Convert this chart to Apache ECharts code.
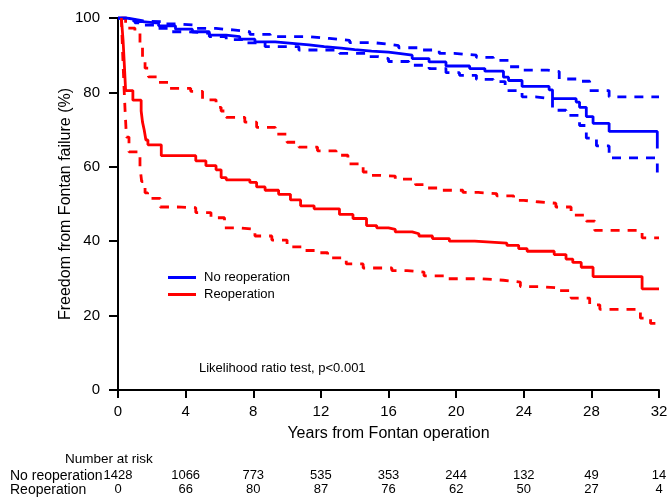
<!DOCTYPE html>
<html>
<head>
<meta charset="utf-8">
<title>Freedom from Fontan failure</title>
<script src="https://cdn.jsdelivr.net/npm/echarts@6/dist/echarts.min.js"></script>
<style>
  html, body { margin: 0; padding: 0; background: #fff; }
  #km { width: 671px; height: 498px; }
</style>
</head>
<body>
<div id="km"></div>
<script>
// Kaplan-Meier, freedom from Fontan failure

var groups = ['No reoperation', 'Reoperation'];
var xTicks = [0, 4, 8, 12, 16, 20, 24, 28, 32];
var riskNoReop = [1428, 1066, 773, 535, 353, 244, 132, 49, 14];
var riskReop = [0, 66, 80, 87, 76, 62, 50, 27, 4];

// [years, %] - step points
var noReopSurv = [[0,100],[0.5,99.6],[1.0,99.0],[1.44,98.6],[2.4,97.9],[3.4,97.0],[4.4,96.3],[5.4,95.4],[6.4,95.0],[7.2,94.3],[8.1,93.6],[9.3,93.2],[10.3,92.8],[11.3,92.3],[12.2,91.9],[13.2,91.5],[14.0,91.1],[15.0,90.8],[16.0,90.5],[16.6,90.0],[17.4,89.1],[18.4,88.2],[19.4,87.1],[20.8,86.4],[21.7,85.7],[22.8,84.1],[23.1,83.2],[23.9,81.6],[25.5,80.7],[25.7,78.3],[27.1,77.4],[27.3,76.0],[27.7,73.5],[28.1,71.7],[29.05,69.5],[31.9,69.5],[31.9,64.9]];
var noReopUpper = [[0,100],[0.5,99.6],[1.0,99.2],[1.5,99.0],[2.6,98.4],[3.5,98.1],[4.6,97.2],[5.8,96.8],[6.8,96.3],[7.8,95.6],[9.0,95.0],[11.3,94.5],[12.5,94.0],[13.7,93.4],[15.0,93.0],[16.0,92.6],[16.6,92.0],[17.8,91.4],[19.0,90.5],[19.9,90.0],[21.2,89.4],[22.2,88.6],[23.1,86.9],[23.9,86.0],[25.4,85.6],[26.1,83.6],[27.3,83.0],[27.9,80.5],[29.05,78.8],[32,78.8]];
var noReopLower = [[0,100],[0.5,99.3],[1.0,98.7],[1.4,98.1],[2.2,97.2],[3.0,96.3],[4.2,95.9],[5.4,95.0],[6.4,94.2],[7.4,93.3],[8.7,92.3],[10.7,91.4],[13.1,90.5],[14.8,89.6],[15.4,89.1],[16.0,88.3],[17.2,87.3],[18.4,86.4],[19.4,85.3],[20.2,84.6],[21.2,83.5],[22.2,82.9],[22.9,80.5],[23.9,78.8],[24.7,78.3],[25.7,75.2],[26.5,73.8],[27.3,71.1],[27.7,67.7],[28.3,65.6],[29.05,62.4],[31.9,62.4],[31.9,57.1]];

var reopSurv = [[0.2,100],[0.3,94],[0.38,87],[0.45,80.5],[0.88,77.9],[1.37,75.0],[1.45,72.0],[1.55,69.9],[1.65,67.2],[1.77,65.9],[2.56,63.0],[4.6,61.6],[5.2,60.3],[5.8,59.2],[6.1,57.1],[6.4,56.5],[7.8,55.8],[8.2,54.6],[8.7,53.7],[9.5,52.6],[10.2,51.1],[10.8,49.5],[11.6,48.7],[13.1,47.2],[13.9,46.1],[14.7,44.2],[15.3,43.6],[16.0,43.2],[16.4,42.5],[17.4,42.0],[17.8,41.4],[18.6,40.7],[19.6,40.0],[21.1,39.5],[23.0,38.9],[23.7,38.0],[24.2,37.3],[25.8,36.4],[26.5,35.2],[26.9,34.3],[27.4,33.0],[28.1,30.5],[31.0,27.2],[32,27.2]];
var reopUpper = [[0.2,100],[0.45,97.3],[1.0,96.0],[1.3,93.0],[1.45,89.2],[1.6,86.5],[1.8,84.2],[2.3,82.7],[3.0,81.1],[4.3,80.3],[5.0,78.0],[5.8,76.0],[6.1,75.0],[6.4,73.3],[7.5,72.0],[8.2,70.6],[9.3,68.8],[10.0,66.6],[10.7,65.3],[11.8,64.3],[12.9,63.1],[13.6,60.8],[14.5,58.6],[15.0,57.7],[15.5,57.5],[16.4,56.7],[17.6,55.2],[18.3,54.3],[19.1,53.7],[20.4,53.1],[21.3,52.8],[22.4,52.2],[23.4,51.0],[24.0,50.6],[24.8,50.2],[25.9,49.2],[26.8,47.0],[27.7,45.4],[28.2,42.9],[31.0,40.9],[32,40.9]];
var reopLower = [[0.2,100],[0.28,90],[0.35,82],[0.42,75],[0.5,68],[0.65,64],[1.3,60],[1.4,56],[1.6,53],[1.75,51.5],[2.5,49.2],[3.5,49.0],[4.6,47.7],[5.5,46.3],[6.3,43.6],[7.1,43.2],[8.1,41.4],[9.1,40.3],[10.0,38.5],[11.0,37.5],[11.7,36.9],[12.4,35.5],[13.5,33.9],[14.5,32.8],[16.2,32.1],[17.1,31.7],[18.1,30.7],[19.3,29.9],[21.5,29.5],[22.8,29.0],[23.8,27.8],[24.9,27.5],[25.9,26.7],[26.8,24.7],[27.9,22.9],[28.5,21.7],[30.9,19.3],[31.5,17.9],[32,17.9]];

var BLUE = '#0000ff';
var RED = '#ff0000';
var FONT = "'Liberation Sans', Arial, sans-serif";

function kmLine(name, data, color, dashed) {
    return {
        name: name,
        type: 'line',
        step: 'end',
        data: data,
        symbol: 'none',
        silent: true,
        z: dashed ? 2 : 3,
        lineStyle: {
            color: color,
            width: 2.8,
            type: dashed ? [9, 8] : 'solid'
        },
        itemStyle: { color: color }
    };
}

function riskAxis(counts, offset) {
    return {
        type: 'value',
        position: 'bottom',
        min: 0,
        max: 32,
        interval: 4,
        offset: offset,
        axisLine: { show: false },
        axisTick: { show: false },
        splitLine: { show: false },
        axisLabel: {
            margin: 0,
            color: '#000',
            fontSize: 13,
            fontFamily: FONT,
            formatter: function (v) {
                return String(counts[xTicks.indexOf(v)]);
            }
        }
    };
}

var km = echarts.init(document.getElementById('km'));
km.setOption({
    animation: false,
    backgroundColor: '#fff',
    textStyle: { fontFamily: FONT },
    grid: {
        left: 118,
        right: 12,
        top: 18,
        bottom: 108,
        containLabel: false,
        outerBoundsMode: 'none'
    },
    legend: {
        data: groups,
        orient: 'vertical',
        left: 163,
        top: 266,
        icon: 'rect',
        itemWidth: 28,
        itemHeight: 3,
        itemGap: 4,
        selectedMode: false,
        textStyle: {
            color: '#000',
            fontSize: 13,
            fontFamily: FONT,
            padding: [0, 0, 0, 3]
        }
    },
    xAxis: [
        {
            type: 'value',
            min: 0,
            max: 32,
            interval: 4,
            name: 'Years from Fontan operation',
            nameLocation: 'middle',
            nameGap: 36,
            nameMoveOverlap: false,
            nameTextStyle: { color: '#000', fontSize: 16, fontFamily: FONT },
            axisLine: { show: true, lineStyle: { color: '#000', width: 2 } },
            axisTick: { show: true, length: 8, lineStyle: { color: '#000', width: 2 } },
            splitLine: { show: false },
            axisLabel: { color: '#000', fontSize: 15, fontFamily: FONT, margin: 14 }
        },
        riskAxis(riskNoReop, 79),
        riskAxis(riskReop, 93)
    ],
    yAxis: {
        type: 'value',
        min: 0,
        max: 100,
        interval: 20,
        name: 'Freedom from Fontan failure (%)',
        nameLocation: 'middle',
        nameGap: 44,
        nameMoveOverlap: false,
        nameTextStyle: { color: '#000', fontSize: 16, fontFamily: FONT },
        axisLine: { show: true, lineStyle: { color: '#000', width: 2 } },
        axisTick: { show: true, length: 9, lineStyle: { color: '#000', width: 2 } },
        splitLine: { show: false },
        axisLabel: { color: '#000', fontSize: 15, fontFamily: FONT, margin: 18 }
    },
    graphic: [
        { type: 'text', x: 199, y: 368, style: { text: 'Likelihood ratio test, p<0.001', font: '13px ' + FONT, fill: '#000', verticalAlign: 'middle' } },
        { type: 'text', x: 65, y: 459, style: { text: 'Number at risk', font: '13.5px ' + FONT, fill: '#000', verticalAlign: 'middle' } },
        { type: 'text', x: 10, y: 476, style: { text: 'No reoperation', font: '14px ' + FONT, fill: '#000', verticalAlign: 'middle' } },
        { type: 'text', x: 10, y: 490, style: { text: 'Reoperation', font: '14px ' + FONT, fill: '#000', verticalAlign: 'middle' } }
    ],
    series: [
        kmLine('No reoperation upper', noReopUpper, BLUE, true),
        kmLine('No reoperation lower', noReopLower, BLUE, true),
        kmLine('Reoperation upper', reopUpper, RED, true),
        kmLine('Reoperation lower', reopLower, RED, true),
        kmLine('No reoperation', noReopSurv, BLUE, false),
        kmLine('Reoperation', reopSurv, RED, false)
    ]
});
</script>
</body>
</html>
